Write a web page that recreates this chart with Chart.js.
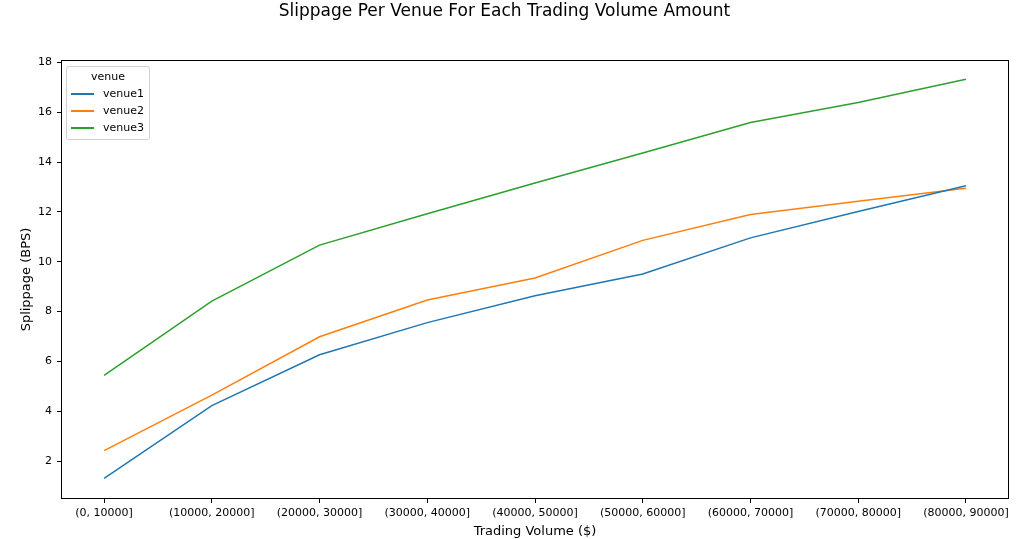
<!DOCTYPE html>
<html>
<head>
<meta charset="utf-8">
<script src="https://cdn.jsdelivr.net/npm/chart.js@4"></script>
<style>
  body { margin: 0; background: #fff; }
  #wrap { position: relative; width: 1024px; height: 539px; }
  #legend {
    position: absolute; left: 66px; top: 66px; width: 82px; height: 70px;
    border: 1px solid #d0d0d0; border-radius: 3px; background: rgba(255,255,255,0.8);
    font-family: 'DejaVu Sans', sans-serif; font-size: 11px; color: #000;
    padding-top: 2px; box-sizing: content-box;
  }
  #legend .ttl { text-align: center; line-height: 15px; height: 15px; margin-bottom: 1px; }
  #legend .row { display: flex; align-items: center; height: 17px; }
  #legend .ln { width: 23px; height: 2px; margin-left: 4px; }
  #legend .tx { margin-left: 9px; }
</style>
</head>
<body>
<div id="wrap">
  <canvas id="myChart"></canvas>
  <div id="legend"></div>
</div>
<script>
var volumeBins = ['(0, 10000]', '(10000, 20000]', '(20000, 30000]', '(30000, 40000]', '(40000, 50000]',
  '(50000, 60000]', '(60000, 70000]', '(70000, 80000]', '(80000, 90000]'];
var venue1 = [1.31, 4.23, 6.27, 7.56, 8.64, 9.51, 10.96, 12.02, 13.05];
var venue2 = [2.42, 4.65, 6.99, 8.47, 9.35, 10.86, 11.90, 12.43, 12.95];
var venue3 = [5.44, 8.42, 10.67, 11.93, 13.16, 14.37, 15.59, 16.39, 17.33];
var yTicks = [2, 4, 6, 8, 10, 12, 14, 16, 18];

var font = "'DejaVu Sans', sans-serif";

function points(values) {
  return values.map(function(v, i) { return { x: i, y: v }; });
}

// matplotlib style box round the plot
const frame = {
  id: 'frame',
  afterDraw(chart) {
    const a = chart.chartArea;
    const c = chart.ctx;
    c.save();
    c.strokeStyle = '#000';
    c.lineWidth = 1;
    c.strokeRect(Math.round(a.left) + 0.5, Math.round(a.top) + 0.5,
      Math.round(a.right - a.left) - 1, Math.round(a.bottom - a.top) - 1);
    c.restore();
  }
};

const ctx = document.getElementById('myChart').getContext('2d');
const chart = new Chart(ctx, {
  type: 'line',
  data: {
    datasets: [
      { label: 'venue1', data: points(venue1), borderColor: '#1f77b4' },
      { label: 'venue2', data: points(venue2), borderColor: '#ff7f0e' },
      { label: 'venue3', data: points(venue3), borderColor: '#2ca02c' }
    ]
  },
  options: {
    responsive: true,
    maintainAspectRatio: false,
    animation: false,
    elements: {
      line: { borderWidth: 1.5, tension: 0 },
      point: { radius: 0 }
    },
    layout: { padding: { left: 0, right: 15, top: 0, bottom: 0 } },
    plugins: {
      legend: { display: false },
      tooltip: { enabled: false },
      title: {
        display: true,
        text: 'Slippage Per Venue For Each Trading Volume Amount',
        color: '#000',
        font: { family: font, size: 17, weight: 'normal' },
        padding: { top: 1.5, bottom: 38.1 }
      }
    },
    scales: {
      x: {
        type: 'linear',
        min: -0.4,
        max: 8.4,
        afterBuildTicks: function(scale) {
          scale.ticks = volumeBins.map(function(_, i) { return { value: i }; });
        },
        afterFit: function(scale) { scale.height = 40; },
        ticks: {
          color: '#000',
          font: { family: font, size: 11 },
          padding: 4,
          maxRotation: 0,
          autoSkip: false,
          callback: function(v) { return volumeBins[v]; }
        },
        grid: { drawOnChartArea: false, drawTicks: true, tickLength: 4, color: '#000' },
        border: { display: false },
        title: {
          display: true,
          text: 'Trading Volume ($)',
          color: '#000',
          font: { family: font, size: 13 },
          padding: { top: 3, bottom: 0 }
        }
      },
      y: {
        min: 0.48,
        max: 18.1,
        afterBuildTicks: function(scale) {
          scale.ticks = yTicks.map(function(v) { return { value: v }; });
        },
        afterFit: function(scale) { scale.width = 61; },
        ticks: {
          color: '#000',
          font: { family: font, size: 11 },
          padding: 5
        },
        grid: { drawOnChartArea: false, drawTicks: true, tickLength: 4, color: '#000' },
        border: { display: false },
        title: {
          display: true,
          text: 'Splippage (BPS)',
          color: '#000',
          font: { family: font, size: 13 },
          padding: { top: 19, bottom: 0 }
        }
      }
    }
  },
  plugins: [frame]
});

//legend
var legend = document.getElementById('legend');
legend.innerHTML = '<div class="ttl">venue</div>';
chart.data.datasets.forEach(function(ds) {
  var row = document.createElement('div');
  row.className = 'row';
  row.innerHTML = '<span class="ln" style="background:' + ds.borderColor + '"></span><span class="tx">' + ds.label + '</span>';
  legend.appendChild(row);
});
</script>
</body>
</html>
